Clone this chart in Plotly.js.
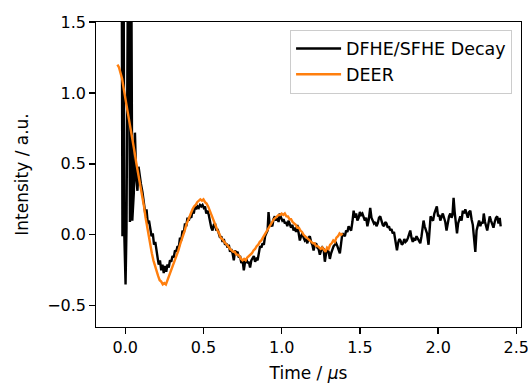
<!DOCTYPE html>
<html>
<head>
<meta charset="utf-8">
<script src="https://cdn.plot.ly/plotly-3.0.1.min.js"></script>
<style>html,body{margin:0;padding:0;background:#fff;}#chart{width:528px;height:383px;}</style>
</head>
<body>
<div id="chart"></div>
<script>
// DFHE/SFHE decay (time in microseconds, intensity in a.u.)
var decayTime = [
-0.024,-0.018,-0.012,-0.006,0.002,0.008,0.021,0.030,0.037,0.045,
0.055,0.062,0.070,0.078,0.085,0.093,0.100,0.110,0.118,0.128,
0.136,0.144,0.152,0.160,0.168,0.176,0.184,0.192,0.200,0.208,
0.214,0.222,0.230,0.238,0.246,0.254,0.262,0.270,0.278,0.286,
0.294,0.302,0.310,0.318,0.326,0.334,0.342,0.350,0.358,0.366,
0.374,0.382,0.390,0.398,0.406,0.414,0.422,0.430,0.438,0.446,
0.454,0.462,0.470,0.478,0.486,0.494,0.502,0.510,0.518,0.526,
0.534,0.542,0.550,0.558,0.566,0.574,0.582,0.590,0.598,0.606,
0.614,0.622,0.630,0.638,0.646,0.654,0.662,0.670,0.678,0.686,
0.694,0.702,0.710,0.718,0.726,0.734,0.742,0.750,0.758,0.766,
0.774,0.782,0.790,0.798,0.806,0.814,0.822,0.830,0.838,0.846,
0.854,0.862,0.870,0.878,0.886,0.894,0.902,0.910,0.916,0.924,
0.932,0.940,0.948,0.956,0.964,0.972,0.980,0.988,0.996,1.004,
1.012,1.020,1.028,1.036,1.044,1.052,1.060,1.068,1.076,1.084,
1.092,1.100,1.108,1.116,1.124,1.132,1.140,1.148,1.156,1.164,
1.172,1.180,1.188,1.196,1.204,1.212,1.220,1.228,1.236,1.244,
1.252,1.260,1.268,1.276,1.284,1.292,1.300,1.308,1.316,1.324,
1.332,1.340,1.348,1.356,1.364,1.372,1.380,1.388,1.396,1.404,
1.412,1.420,1.428,1.436,1.444,1.452,1.460,1.468,1.476,1.484,
1.492,1.500,1.508,1.516,1.524,1.532,1.540,1.548,1.556,1.566,
1.574,1.582,1.590,1.598,1.606,1.614,1.622,1.630,1.638,1.646,
1.654,1.662,1.670,1.678,1.686,1.694,1.702,1.710,1.718,1.726,
1.737,1.744,1.752,1.760,1.768,1.776,1.784,1.792,1.800,1.808,
1.816,1.822,1.830,1.838,1.846,1.854,1.862,1.870,1.878,1.886,
1.894,1.902,1.907,1.914,1.922,1.929,1.939,1.946,1.952,1.960,
1.968,1.976,1.984,1.992,2.000,2.008,2.014,2.022,2.030,2.038,
2.046,2.054,2.062,2.070,2.078,2.086,2.092,2.099,2.106,2.114,
2.121,2.128,2.136,2.142,2.150,2.158,2.166,2.174,2.182,2.190,
2.198,2.206,2.214,2.222,2.227,2.238,2.246,2.254,2.262,2.270,
2.278,2.286,2.292,2.300,2.308,2.314,2.322,2.330,2.338,2.346,
2.354,2.362,2.370,2.378,2.386,2.394,2.400
];
var decayIntensity = [
2.6,-0.01,2.6,0.00,-0.35,0.05,2.6,0.09,2.4,0.10,
0.30,0.72,0.40,0.31,0.48,0.40,0.36,0.30,0.22,0.15,
0.18,0.08,0.10,0.03,-0.01,0.01,-0.07,-0.05,-0.13,-0.17,
-0.21,-0.18,-0.25,-0.21,-0.27,-0.22,-0.26,-0.21,-0.23,-0.18,
-0.19,-0.15,-0.16,-0.11,-0.12,-0.08,-0.09,-0.02,-0.04,0.03,
0.01,0.08,0.06,0.12,0.10,0.13,0.12,0.17,0.15,0.20,
0.18,0.20,0.19,0.21,0.20,0.21,0.19,0.20,0.15,0.17,
0.14,0.09,0.05,0.03,0.07,0.08,0.03,0.04,0.01,-0.02,
-0.01,-0.05,-0.03,-0.07,-0.06,-0.09,-0.07,-0.12,-0.10,-0.13,
-0.18,-0.11,-0.13,-0.12,-0.16,-0.15,-0.20,-0.18,-0.25,-0.19,
-0.17,-0.20,-0.19,-0.23,-0.18,-0.16,-0.15,-0.19,-0.17,-0.18,
-0.12,-0.08,-0.09,-0.06,-0.07,-0.01,0.01,0.03,0.16,0.06,
0.07,0.06,0.11,0.13,0.10,0.12,0.09,0.15,0.12,0.10,
0.11,0.08,0.09,0.06,0.10,0.08,0.05,0.07,0.03,0.05,
0.02,0.07,0.01,-0.04,-0.01,0.01,-0.02,-0.04,-0.03,-0.06,
-0.02,-0.01,-0.05,-0.07,-0.11,-0.07,-0.06,-0.09,-0.10,-0.14,
-0.11,-0.09,-0.10,-0.19,-0.13,-0.11,-0.12,-0.17,-0.13,-0.10,
-0.08,-0.07,-0.06,-0.08,-0.10,-0.13,-0.06,0.01,0.00,-0.01,
0.03,0.02,0.06,0.04,0.03,0.09,0.17,0.12,0.15,0.10,
0.12,0.16,0.14,0.15,0.13,0.10,0.12,0.06,0.10,0.19,
0.12,0.10,0.08,0.09,0.06,0.08,0.12,0.13,0.09,0.07,
0.06,0.09,0.08,0.05,0.06,0.03,0.04,0.01,0.02,-0.04,
-0.11,-0.06,-0.03,-0.04,-0.07,-0.06,-0.03,-0.05,-0.04,-0.02,
0.01,0.03,-0.02,-0.05,-0.03,-0.04,-0.01,-0.03,-0.05,-0.06,
-0.01,0.05,0.10,0.06,0.03,0.01,-0.07,0.07,0.13,0.11,
0.10,0.15,0.17,0.20,0.13,0.14,0.10,0.13,0.15,0.12,
0.09,0.03,0.10,0.13,0.15,0.12,0.14,0.26,0.16,0.08,
0.01,0.08,0.12,0.13,0.10,0.17,0.15,0.18,0.15,0.12,
0.16,0.17,0.11,0.07,0.01,-0.12,0.03,0.08,0.10,0.06,
0.09,0.08,0.15,0.09,0.06,0.03,0.08,0.13,0.10,0.07,
0.05,0.09,0.12,0.13,0.08,0.12,0.06
];

// DEER trace, sampled every 0.01 us starting at -0.05 us
var deerStart = -0.05;
var deerStep = 0.01;
var deerIntensity = [
1.20,1.18,1.14,1.10,1.03,0.97,0.90,0.84,0.78,0.72,
0.65,0.58,0.51,0.45,0.39,0.33,0.27,0.20,0.12,0.05,
-0.02,-0.08,-0.13,-0.18,-0.22,-0.26,-0.29,-0.32,-0.33,-0.35,
-0.34,-0.35,-0.32,-0.30,-0.27,-0.23,-0.20,-0.17,-0.14,-0.11,
-0.07,-0.04,0.00,0.03,0.07,0.10,0.13,0.15,0.18,0.20,
0.21,0.23,0.24,0.25,0.24,0.25,0.23,0.22,0.20,0.17,
0.14,0.12,0.09,0.06,0.03,0.01,-0.02,-0.03,-0.05,-0.06,
-0.07,-0.09,-0.10,-0.11,-0.12,-0.12,-0.14,-0.14,-0.15,-0.17,
-0.18,-0.17,-0.18,-0.16,-0.15,-0.14,-0.13,-0.11,-0.10,-0.08,
-0.07,-0.05,-0.04,-0.02,0.00,0.02,0.04,0.06,0.07,0.09,
0.11,0.12,0.13,0.14,0.14,0.15,0.14,0.15,0.13,0.13,
0.11,0.11,0.09,0.08,0.07,0.05,0.05,0.03,0.02,0.00,
-0.01,-0.02,-0.03,-0.04,-0.05,-0.06,-0.06,-0.08,-0.08,-0.09,
-0.10,-0.09,-0.11,-0.12,-0.09,-0.10,-0.07,-0.06,-0.04,-0.05,
-0.02,-0.01,0.01,0.00,0.01
];
var deerTime = deerIntensity.map(function(_, i){ return +(deerStart + deerStep*i).toFixed(3); });

var seriesNames = ["DFHE/SFHE Decay", "DEER"];
var yTicks = [-0.5, 0.0, 0.5, 1.0, 1.5];
var xTicks = [0.0, 0.5, 1.0, 1.5, 2.0, 2.5];

var font = {family: "DejaVu Sans, sans-serif", size: 17, color: "#000"};
var tickFont = {family: "DejaVu Sans, sans-serif", size: 16, color: "#000"};
var legendFont = {family: "DejaVu Sans, sans-serif", size: 17.5, color: "#000"};

var traces = [
  {x: decayTime, y: decayIntensity, type: "scatter", mode: "lines", name: seriesNames[0],
   line: {color: "#000000", width: 2.4}, legendgroup: "a"},
  {x: deerTime, y: deerIntensity, type: "scatter", mode: "lines", name: seriesNames[1],
   line: {color: "#ff7f0e", width: 2.4}, legendgroup: "b"}
];

var axisCommon = {
  showline: true, mirror: true, linecolor: "#000", linewidth: 1.3,
  ticks: "outside", ticklen: 5.5, tickwidth: 1.3, tickcolor: "#000",
  showgrid: false, zeroline: false, tickfont: tickFont, automargin: false,
  ticklabeloverflow: "allow"
};

var layout = {
  width: 528, height: 383,
  margin: {l: 96, r: 7, t: 22, b: 56},
  paper_bgcolor: "#fff", plot_bgcolor: "#fff",
  font: font,
  showlegend: true,
  xaxis: Object.assign({}, axisCommon, {
    range: [-0.187, 2.530], tickvals: xTicks, tickformat: ".1f",
    title: {text: "Time / <i>μ</i>s", font: font, standoff: 12}
  }),
  yaxis: Object.assign({}, axisCommon, {
    range: [-0.65, 1.5], tickvals: yTicks, tickformat: ".1f",
    title: {text: "Intensity / a.u.", font: font, standoff: 14}
  }),
  legend: {
    x: 0.979, y: 0.975, xanchor: "right", yanchor: "top",
    bgcolor: "rgba(255,255,255,0.8)", bordercolor: "#cccccc", borderwidth: 1,
    font: legendFont, traceorder: "grouped", tracegroupgap: 0, itemwidth: 45
  }
};

Plotly.newPlot("chart", traces, layout, {staticPlot: true, displayModeBar: false});
</script>
</body>
</html>
